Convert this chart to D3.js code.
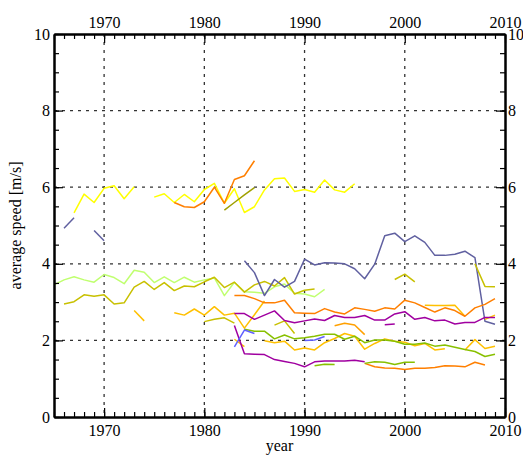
<!DOCTYPE html>
<html>
<head>
<meta charset="utf-8">
<script src="https://cdn.jsdelivr.net/npm/d3@7"></script>
<style>
  body { margin: 0; background: #fff; }
  svg { display: block; font-family: "Liberation Serif", "Times New Roman", serif; }
  .axis text { font-size: 16px; fill: #000; font-family: "Liberation Serif", serif; }
  .axis path, .axis line { stroke: #000; }
</style>
</head>
<body>
<div id="chartDiv"></div>
<script>
// axis ticks
let majorYears = [1970, 1980, 1990, 2000, 2010];
let gridYears = [1970, 1980, 1990, 2000];
let speedTicks = [0, 2, 4, 6, 8, 10];
let gridSpeeds = [2, 4, 6, 8];

// each series: first year + yearly values (null = gap)
let slateA = { start: 1966, values: [4.93, 5.20] };
let slateB = { start: 1969, values: [4.87, 4.60] };
let slateC = { start: 1984, values: [4.08, 3.77, 3.17, 3.59, 3.39, 3.54, 4.12, 3.97, 4.03, 4.02, 4.00, 3.87, 3.61, 3.99, 4.73, 4.80, 4.58, 4.73, 4.56, 4.22, 4.22, 4.25, 4.33, 4.16, 2.50, 2.42] };
let yellowA = { start: 1967, values: [5.33, 5.82, 5.60, 5.97, 6.04, 5.70, 6.01, null, 5.74, 5.83, 5.60, 5.81, 5.62, 5.94, 6.10, 5.58, 5.96, 5.34, 5.49, 5.93, 6.22, 6.24, 5.89, 5.94, 5.87, 6.19, 5.93, 5.87, 6.09] };
let orangeA = { start: 1977, values: [5.60, 5.49, 5.47, 5.62, 6.00, 5.58, 6.20, 6.30, 6.69] };
let darkOliveA = { start: 1982, values: [5.40, 5.60, 5.80, 5.99] };
let lightGreenA = { start: 1965, values: [3.45, 3.58, 3.66, 3.58, 3.52, 3.72, 3.64, 3.48, 3.83, 3.78, 3.51, 3.66, 3.51, 3.65, 3.52, 3.58, 3.63, 3.17, 3.52, 3.27, 3.26, 3.23, 3.40, 3.47, 3.23, 3.21, 3.14, 3.33] };
let oliveA = { start: 1966, values: [2.95, 3.01, 3.19, 3.15, 3.19, 2.95, 2.98, 3.39, 3.54, 3.33, 3.51, 3.30, 3.42, 3.40, 3.53, 3.65, 3.38, 3.52, 3.26, 3.45, 3.54, 3.42, 3.64, 3.21, 3.31, 3.34] };
let oliveB = { start: 1980, values: [2.49, 2.55, 2.59, 2.45] };
let oliveC = { start: 1987, values: [2.40, 2.51, 2.18] };
let oliveD = { start: 1999, values: [3.59, 3.73, 3.53] };
let oliveE = { start: 2007, values: [4.00, 3.41, 3.40] };
let goldA = { start: 1973, values: [2.78, 2.51] };
let goldB = { start: 1977, values: [2.72, 2.66, 2.82, 2.66, 2.88, 2.66, 2.71, 2.32, 2.67, 3.03] };
let goldC = { start: 1983, values: [2.03, 1.84] };
let goldD = { start: 1986, values: [1.99, 1.94, 1.98, 1.75, 1.80, 1.75, 1.94, 2.05, 2.18, 2.11, 1.77, 1.92, 2.04, 1.98, 1.95, 1.86, 1.92, 1.75, 1.78] };
let goldE = { start: 2006, values: [1.75, 2.02, 1.79, 1.85] };
let goldF = { start: 2002, values: [2.92, 2.91, 2.91, 2.92, 2.63] };
let goldG = { start: 2008, values: [2.55, 2.66] };
let amberA = { start: 1993, values: [2.38, 2.45, 2.40, 2.15] };
let orangeB = { start: 1983, values: [3.17, 3.17, 3.09, 2.98, 2.98, 3.05, 2.72, 2.71, 2.70, 2.83, 2.74, 2.69, 2.85, 2.81, 2.76, 2.85, 2.82, 3.05, 2.98, 2.86, 2.74, 2.85, 2.78, 2.63, 2.85, 2.94, 3.09] };
let orangeC = { start: 1996, values: [1.40, 1.31, 1.28, 1.27, 1.24, 1.27, 1.27, 1.29, 1.34, 1.33, 1.31, 1.43, 1.36] };
let purpleA = { start: 1983, values: [2.70, 2.70, 2.55, 2.66, 2.77, 2.52, 2.46, 2.51, 2.56, 2.52, 2.65, 2.60, 2.60, 2.65, 2.53, 2.53, 2.69, 2.75, 2.55, 2.60, 2.51, 2.53, 2.43, 2.47, 2.47, 2.60, 2.60] };
let purpleB = { start: 1998, values: [2.41, 2.43] };
let purpleC = { start: 1983, values: [2.39, 1.65, 1.64, 1.63, 1.50, 1.45, 1.40, 1.31, 1.44, 1.46, 1.46, 1.46, 1.48, 1.44] };
let greenA = { start: 1984, values: [2.29, 2.24, 2.24, 2.04, 2.14, 2.04, 2.07, 2.11, 2.16, 2.16, 2.03, 2.11, 1.94, 2.01, 2.01, 1.98, 1.90, 1.90, 1.93, 1.85, 1.88, 1.82, 1.76, 1.71, 1.58, 1.64] };
let greenB = { start: 1991, values: [1.34, 1.38, 1.37] };
let greenC = { start: 1996, values: [1.40, 1.44, 1.43, 1.37, 1.43, 1.43] };
let blueA = { start: 1983, values: [1.83, 2.27, 2.18] };
let blueB = { start: 1990, values: [2.00, 2.01, 2.10] };

let seriesList = [
	[lightGreenA, "#c0ff70"], [oliveA, "#c8c000"], [yellowA, "#ffff00"], [orangeA, "#ff7f00"],
	[darkOliveA, "#a0a000"], [slateA, "#6060a0"], [slateB, "#6060a0"], [slateC, "#6060a0"],
	[oliveB, "#c8c000"], [oliveC, "#c8c000"], [oliveD, "#c8c000"], [oliveE, "#c8c000"],
	[goldA, "#ffc000"], [goldB, "#ffc000"], [goldC, "#ffc000"], [goldD, "#ffc000"],
	[goldE, "#ffc000"], [goldF, "#ffc000"], [goldG, "#ffc000"], [amberA, "#ffa000"],
	[orangeB, "#ff7f00"], [orangeC, "#ff7f00"], [purpleA, "#a000a0"], [purpleB, "#a000a0"],
	[purpleC, "#a000a0"], [greenA, "#88c000"], [greenB, "#88c000"], [greenC, "#88c000"],
	[blueA, "#6060ff"], [blueB, "#6060ff"]
];

function drawChart(){
	let svgWidth = 523, svgHeight = 456;
	let left = 54, right = 505, top = 34, bottom = 417;

	let svg = d3.select("#chartDiv").append("svg")
		.attr("width", svgWidth)
		.attr("height", svgHeight);

	let xScale = d3.scaleLinear().domain([1965, 2010]).range([left, right]);
	let yScale = d3.scaleLinear().domain([0, 10]).range([bottom, top]);

	// dotted grid
	let grid = svg.append("g");
	grid.selectAll(".vgrid").data(gridYears).enter().append("line")
		.attr("x1", d => xScale(d)).attr("x2", d => xScale(d))
		.attr("y1", top).attr("y2", bottom)
		.attr("stroke", "#333").attr("stroke-width", 1.3).attr("stroke-dasharray", "3,5");
	grid.selectAll(".hgrid").data(gridSpeeds).enter().append("line")
		.attr("x1", left).attr("x2", right)
		.attr("y1", d => yScale(d)).attr("y2", d => yScale(d))
		.attr("stroke", "#333").attr("stroke-width", 1.3).attr("stroke-dasharray", "3,5");

	// series lines
	let valueline = d3.line()
		.defined(d => d.v != null)
		.x(d => xScale(d.year))
		.y(d => yScale(d.v));

	let lineGroup = svg.append("g");
	seriesList.forEach(function(s){
		let pts = s[0].values.map((v, i) => ({year: s[0].start + i, v: v}));
		lineGroup.append("path")
			.datum(pts)
			.attr("fill", "none")
			.attr("stroke", s[1])
			.attr("stroke-width", 1.5)
			.attr("stroke-linejoin", "round")
			.attr("d", valueline);
	});

	// minor ticks (inward)
	let minorYears = d3.range(1965, 2011, 1);
	let minorSpeeds = d3.range(0, 10.01, 0.5);

	svg.append("g").attr("class", "axis").attr("transform", "translate(0," + bottom + ")")
		.call(d3.axisBottom(xScale).tickValues(minorYears).tickSize(-5).tickSizeOuter(0).tickFormat(""));
	svg.append("g").attr("class", "axis").attr("transform", "translate(0," + top + ")")
		.call(d3.axisTop(xScale).tickValues(minorYears).tickSize(-5).tickSizeOuter(0).tickFormat(""));
	svg.append("g").attr("class", "axis").attr("transform", "translate(" + left + ",0)")
		.call(d3.axisLeft(yScale).tickValues(minorSpeeds).tickSize(-5).tickSizeOuter(0).tickFormat(""));
	svg.append("g").attr("class", "axis").attr("transform", "translate(" + right + ",0)")
		.call(d3.axisRight(yScale).tickValues(minorSpeeds).tickSize(-5).tickSizeOuter(0).tickFormat(""));

	// major ticks + labels
	let xBottom = svg.append("g").attr("class", "axis").attr("transform", "translate(0," + bottom + ")")
		.call(d3.axisBottom(xScale).tickValues(majorYears).tickSize(-9).tickSizeOuter(0).tickPadding(8).tickFormat(d3.format("d")));
	let xTop = svg.append("g").attr("class", "axis").attr("transform", "translate(0," + top + ")")
		.call(d3.axisTop(xScale).tickValues(majorYears).tickSize(-9).tickSizeOuter(0).tickPadding(6).tickFormat(d3.format("d")));
	let yLeft = svg.append("g").attr("class", "axis").attr("transform", "translate(" + left + ",0)")
		.call(d3.axisLeft(yScale).tickValues(speedTicks).tickSize(-9).tickSizeOuter(0).tickPadding(4));
	let yRight = svg.append("g").attr("class", "axis").attr("transform", "translate(" + right + ",0)")
		.call(d3.axisRight(yScale).tickValues(speedTicks).tickSize(-9).tickSizeOuter(0).tickPadding(3));

	svg.selectAll(".axis path.domain").attr("stroke-width", 2);
	svg.selectAll(".axis line").attr("stroke-width", 1.2);

	// axis titles
	svg.append("text")
		.attr("x", (left + right) / 2).attr("y", 451)
		.attr("text-anchor", "middle")
		.style("font-size", "16px")
		.text("year");

	svg.append("text")
		.attr("transform", "translate(21," + ((top + bottom) / 2) + ") rotate(-90)")
		.attr("text-anchor", "middle")
		.style("font-size", "16px")
		.text("average speed [m/s]");
}

drawChart();
</script>
</body>
</html>
